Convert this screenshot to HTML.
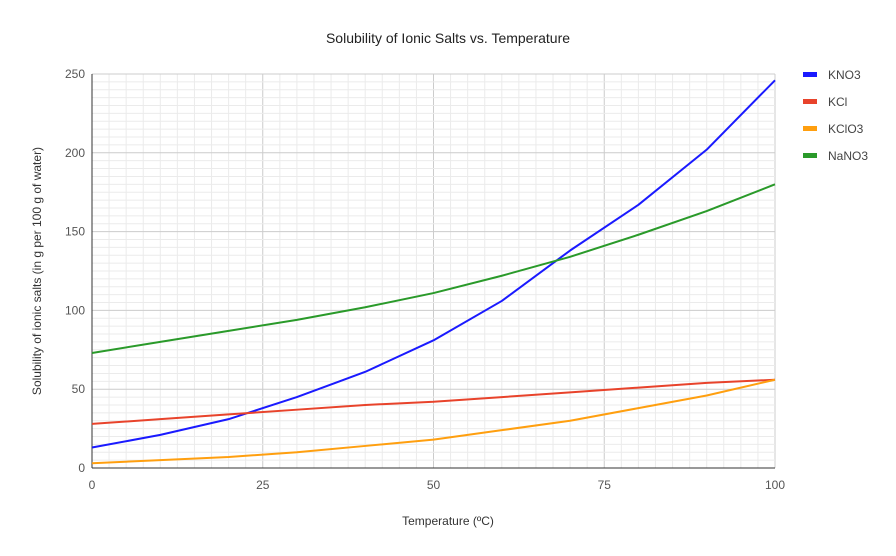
<!DOCTYPE html>
<html><head><meta charset="utf-8"><style>
body{margin:0;background:#fff;font-family:"Liberation Sans",Arial,sans-serif;}
svg text{font-family:"Liberation Sans",Arial,sans-serif;}
</style></head><body>
<svg id="chart" width="896" height="551" xmlns="http://www.w3.org/2000/svg">
<rect width="896" height="551" fill="#fff"/>
<text x="448" y="43" text-anchor="middle" font-size="14" fill="#222">Solubility of Ionic Salts vs. Temperature</text>
<g id="grid"></g><g id="axes"></g><g id="series"></g><g id="legend"></g>
<text x="448" y="525" text-anchor="middle" font-size="12" fill="#333">Temperature (ºC)</text>
<text transform="translate(41,271) rotate(-90)" text-anchor="middle" font-size="12" fill="#333">Solubility of ionic salts (in g per 100 g of water)</text>
</svg>
<script>
const temps=[0,10,20,30,40,50,60,70,80,90,100];
const kno3=[13,21,31,45,61,81,106,138,167,202,246];
const kcl=[28,31,34,37,40,42,45,48,51,54,56];
const kclo3=[3,5,7,10,14,18,24,30,38,46,56];
const nano3=[73,80,87,94,102,111,122,134,148,163,180];
const seriesNames=["KNO3","KCl","KClO3","NaNO3"];
const xTicks=[0,25,50,75,100];
const yTicks=[0,50,100,150,200,250];
const NS="http://www.w3.org/2000/svg";
const X0=92,X1=775,Y0=468,Y1=74;
const xs=v=>X0+(v-0)/100*(X1-X0);
const ys=v=>Y0-(v/250)*(Y0-Y1);
function mk(tag,attrs,parent){const e=document.createElementNS(NS,tag);for(const k in attrs)e.setAttribute(k,attrs[k]);parent.appendChild(e);return e;}
const grid=document.getElementById('grid');
for(let v=2.5;v<=100;v+=2.5){const l=mk('line',{x1:xs(v),x2:xs(v),y1:Y1,y2:Y0,stroke:(v%25===0)?'#cccccc':'#ebebeb','stroke-width':1},grid);

}
for(let v=5;v<=250;v+=5){const l=mk('line',{x1:X0,x2:X1,y1:ys(v),y2:ys(v),stroke:(v%50===0)?'#cccccc':'#ebebeb','stroke-width':1},grid);

}
const axes=document.getElementById('axes');
const xa=mk('line',{x1:X0,x2:X1,y1:Y0,y2:Y0,stroke:'#333','stroke-width':1},axes);


const ya=mk('line',{x1:X0,x2:X0,y1:Y1,y2:Y0,stroke:'#333','stroke-width':1},axes);


xTicks.forEach(t=>{const e=mk('text',{x:xs(t),y:489,'text-anchor':'middle','font-size':12,fill:'#555'},axes);e.textContent=t;

});
yTicks.forEach(t=>{const e=mk('text',{x:X0-7,y:ys(t)+4,'text-anchor':'end','font-size':12,fill:'#555'},axes);e.textContent=t;

});
const data=[kno3,kcl,kclo3,nano3];
const colors=["#1a1aff","#e8432b","#ff9f0f","#2a9a2a"];
const sg=document.getElementById('series');
data.forEach((d,i)=>{const p=mk('polyline',{points:d.map((v,j)=>xs(temps[j])+','+ys(v)).join(' '),fill:'none',stroke:colors[i],'stroke-width':2,'stroke-linejoin':'round'},sg);

});
const lg=document.getElementById('legend');
seriesNames.forEach((n,i)=>{const y=75+i*27;const g=mk('g',{},lg);


mk('rect',{x:803,y:y-3,width:14,height:5,fill:colors[i]},g);
const t=mk('text',{x:828,y:y+4,'font-size':12,fill:'#444'},g);t.textContent=n;});
</script>
</body></html>
